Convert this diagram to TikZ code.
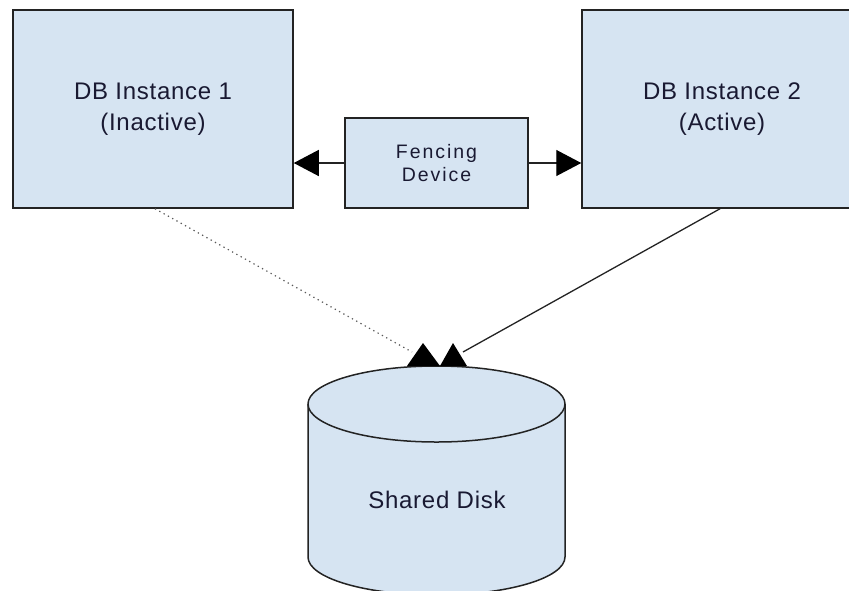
\documentclass[tikz,border=0pt]{standalone}
\usepackage{fontspec}
\setmainfont{Liberation Sans}[LetterSpace=3]
\newfontfamily\smallfnt{Liberation Sans}[LetterSpace=10]
\usetikzlibrary{arrows.meta}
\definecolor{boxfill}{RGB}{214,228,242}
\definecolor{edgecol}{RGB}{35,35,35}
\definecolor{txtcol}{RGB}{25,25,50}
\definecolor{dotcol}{RGB}{90,90,90}
\begin{document}
\begin{tikzpicture}[x=1pt,y=-1pt,
  box/.style={draw=edgecol, line width=1.5pt, fill=boxfill, text=txtcol, align=center, inner sep=0pt},
  bigtext/.style={font=\fontsize{24}{31}\selectfont},
  smalltext/.style={font=\smallfnt\fontsize{19.5}{23}\selectfont},
  conn/.style={draw=edgecol, line width=1.3pt},
  fencetip/.style={-{Triangle[length=25pt,width=26pt,color=black,fill=black]}},
  dotconn/.style={draw=dotcol, line width=1.2pt, dash pattern=on 1.3pt off 3.6pt},
  tipfill/.style={fill=black}
]
\clip (0,0) rectangle (849,590);

\node[box,bigtext,minimum width=280pt,minimum height=198pt] (db1) at (153,109) {DB Instance 1\\(Inactive)};
\node[box,bigtext,minimum width=280pt,minimum height=198pt] (db2) at (722,109) {DB Instance 2\\(Active)};
\node[box,smalltext,minimum width=183pt,minimum height=90pt] (fence) at (436.5,163) {Fencing\\Device};

% cylinder
\filldraw[draw=edgecol, line width=1.5pt, fill=boxfill]
  (308,404) -- (308,557) arc[start angle=180, end angle=360, x radius=128.5pt, y radius=38pt]
  -- (565,404) arc[start angle=0, end angle=180, x radius=128.5pt, y radius=38pt] -- cycle;
\draw[draw=edgecol, line width=1.5pt]
  (308,404) arc[start angle=180, end angle=360, x radius=128.5pt, y radius=38pt];
\node[bigtext, text=txtcol, anchor=base] (disk) at (437,508) {Shared Disk};

% fencing arrows
\draw[conn,fencetip] (fence.west) -- (fence.west -| db1.east);
\draw[conn,fencetip] (fence.east) -- (fence.east -| db2.west);

% connectors to disk
\coordinate (e1) at (412,352);
\coordinate (e2) at (463,352);
\draw[dotconn] ([xshift=2pt]db1.south) -- (e1);
\draw[conn] ([xshift=-2pt]db2.south) -- (e2);
\fill[tipfill] (407,366) -- (423,343) -- (440,366) -- cycle;
\fill[tipfill] (440,366) -- (453,343) -- (467,366) -- cycle;
\end{tikzpicture}
\end{document}
